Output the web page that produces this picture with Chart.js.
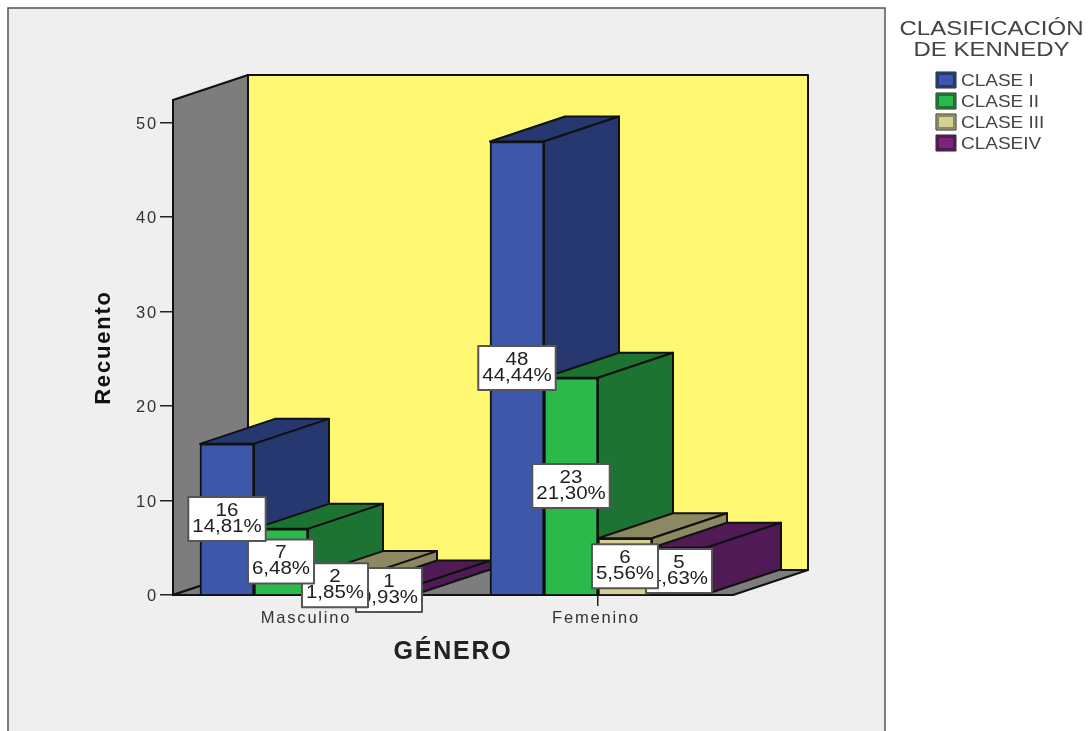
<!DOCTYPE html>
<html lang="es">
<head>
<meta charset="utf-8">
<title>Clasificación de Kennedy por género</title>
<script src="https://cdn.jsdelivr.net/npm/chart.js@4"></script>
<style>
  html, body { margin: 0; padding: 0; background: #fff; overflow: hidden; }
  canvas { display: block; }
</style>
</head>
<body>
<canvas id="grafico" width="1088" height="731"></canvas>
<script>
const categorias = ['Masculino', 'Femenino'];
const clases = ['CLASE I', 'CLASE II', 'CLASE III', 'CLASEIV'];
const claseI = [16, 48];
const claseII = [7, 23];
const claseIII = [2, 6];
const claseIV = [1, 5];
const pctClaseI = ['14,81%', '44,44%'];
const pctClaseII = ['6,48%', '21,30%'];
const pctClaseIII = ['1,85%', '5,56%'];
const pctClaseIV = ['0,93%', '4,63%'];
const ticksY = [0, 10, 20, 30, 40, 50];

const valores = [claseI, claseII, claseIII, claseIV];
const porcentajes = [pctClaseI, pctClaseII, pctClaseIII, pctClaseIV];
const frentes = ['#3d58ab', '#2bb94c', '#d6d094', '#7f2378'];
const costados = ['#26386f', '#1d7432', '#8b8862', '#501b54'];

// profundidad del efecto 3D
const DX = 75, DY = -25;
const LINEA = '#111';
const FUENTE = '"Liberation Sans", Arial, sans-serif';

function poligono(ctx, puntos, relleno) {
    ctx.beginPath();
    puntos.forEach((p, i) => i ? ctx.lineTo(p[0], p[1]) : ctx.moveTo(p[0], p[1]));
    ctx.closePath();
    ctx.fillStyle = relleno;
    ctx.fill();
    ctx.lineWidth = 2;
    ctx.lineJoin = 'round';
    ctx.strokeStyle = LINEA;
    ctx.stroke();
}

// el texto del original esta estirado a lo ancho
function textoAncho(ctx, texto, x, y, estirado) {
    ctx.save();
    ctx.translate(x, y);
    ctx.scale(estirado, 1);
    ctx.fillText(texto, 0, 0);
    ctx.restore();
}

function dibujarEtiqueta(ctx, x, y, valor, pct) {
    const estirado = 1.17;
    ctx.font = '17.5px ' + FUENTE;
    const ancho = Math.max(ctx.measureText(pct).width, ctx.measureText(valor).width) * estirado + 8;
    const alto = 44;
    ctx.fillStyle = '#fff';
    ctx.strokeStyle = '#555';
    ctx.lineWidth = 2;
    ctx.fillRect(x - ancho / 2, y - alto / 2, ancho, alto);
    ctx.strokeRect(x - ancho / 2, y - alto / 2, ancho, alto);
    ctx.fillStyle = '#222';
    ctx.textAlign = 'center';
    ctx.textBaseline = 'middle';
    textoAncho(ctx, valor, x, y - 8, estirado);
    textoAncho(ctx, pct, x, y + 8, estirado);
}

// fondo, paredes, suelo y leyenda
const fondo3d = {
    id: 'fondo3d',
    beforeDraw(chart) {
        const ctx = chart.ctx;
        const a = chart.chartArea;
        ctx.letterSpacing = '1.8px'; // para ticks y titulos de eje
        ctx.save();
        ctx.letterSpacing = '0px';
        ctx.fillStyle = '#fff';
        ctx.fillRect(0, 0, chart.width, chart.height);
        ctx.fillStyle = '#efefef';
        ctx.fillRect(8, 8, 877, 740);
        ctx.strokeStyle = '#555';
        ctx.lineWidth = 1.5;
        ctx.strokeRect(8, 8, 877, 740);

        poligono(ctx, [[a.left + DX, a.top + DY], [a.right + DX, a.top + DY], [a.right + DX, a.bottom + DY], [a.left + DX, a.bottom + DY]], '#fff873');
        poligono(ctx, [[a.left, a.top], [a.left + DX, a.top + DY], [a.left + DX, a.bottom + DY], [a.left, a.bottom]], '#7d7d7d');
        poligono(ctx, [[a.left, a.bottom], [a.left + DX, a.bottom + DY], [a.right + DX, a.bottom + DY], [a.right, a.bottom]], '#7d7d7d');

        ctx.fillStyle = '#444';
        ctx.textAlign = 'center';
        ctx.textBaseline = 'middle';
        ctx.font = '20.5px ' + FUENTE;
        textoAncho(ctx, 'CLASIFICACIÓN', 991.5, 29, 1.17);
        textoAncho(ctx, 'DE KENNEDY', 991.5, 50, 1.17);
        clases.forEach((nombre, i) => {
            const y = 80 + i * 21;
            ctx.fillStyle = frentes[i];
            ctx.fillRect(936, y - 8, 20, 16);
            ctx.strokeStyle = costados[i];
            ctx.lineWidth = 2;
            ctx.strokeRect(938, y - 6, 16, 12);
            ctx.strokeStyle = '#222';
            ctx.lineWidth = 1;
            ctx.strokeRect(936, y - 8, 20, 16);
            ctx.fillStyle = '#444';
            ctx.textAlign = 'left';
            ctx.font = '16.5px ' + FUENTE;
            textoAncho(ctx, nombre, 961, y + 1, 1.15);
        });
        ctx.restore();
    },
    // las barras se pintan de izquierda a derecha para que el frente tape el costado anterior
    beforeDatasetsDraw(chart) {
        const ctx = chart.ctx;
        ctx.save();
        ctx.letterSpacing = '0px';
        categorias.forEach((c, j) => {
            valores.forEach((serie, i) => {
                const barra = chart.getDatasetMeta(i).data[j];
                const izq = barra.x - barra.width / 2;
                const der = barra.x + barra.width / 2;
                poligono(ctx, [[izq, barra.y], [izq + DX, barra.y + DY], [der + DX, barra.y + DY], [der, barra.y]], costados[i]);
                poligono(ctx, [[der, barra.y], [der + DX, barra.y + DY], [der + DX, barra.base + DY], [der, barra.base]], costados[i]);
                barra.draw(ctx);
            });
        });
        categorias.forEach((c, j) => {
            for (let i = valores.length - 1; i >= 0; i--) {
                const barra = chart.getDatasetMeta(i).data[j];
                dibujarEtiqueta(ctx, barra.x, (barra.y + barra.base) / 2, String(valores[i][j]), porcentajes[i][j]);
            }
        });
        ctx.restore();
        return false;
    }
};

const ctx = document.getElementById('grafico').getContext('2d');

new Chart(ctx, {
    type: 'bar',
    data: {
        datasets: clases.map((nombre, i) => ({
            label: nombre,
            data: valores[i].map((v, j) => ({ x: j + 1, y: v })),
            backgroundColor: frentes[i],
            borderColor: LINEA,
            borderWidth: 2,
            barThickness: 54
        }))
    },
    options: {
        responsive: false,
        animation: false,
        layout: { padding: { left: 90, right: 355, top: 100, bottom: 64 } },
        plugins: { legend: { display: false }, tooltip: { enabled: false } },
        scales: {
            x: {
                type: 'linear',
                offset: false,
                min: 0.5345,
                max: 2.4655,
                afterFit(scale) { scale.height = 72; },
                afterBuildTicks(scale) { scale.ticks = categorias.map((c, j) => ({ value: j + 1 })); },
                grid: { offset: false, drawOnChartArea: false, tickLength: 11, color: '#222', lineWidth: 1.5 },
                border: { color: LINEA, width: 2 },
                ticks: {
                    autoSkip: false,
                    maxRotation: 0,
                    padding: 3,
                    labelOffset: -2,
                    color: '#333',
                    font: { family: FUENTE, size: 16.5 },
                    callback: v => categorias[v - 1]
                },
                title: { display: true, text: 'GÉNERO', color: '#222', font: { family: FUENTE, size: 25, weight: 'bold' }, padding: 0 }
            },
            y: {
                min: 0,
                max: 52.4,
                afterFit(scale) { scale.width = 83; },
                afterBuildTicks(scale) { scale.ticks = ticksY.map(v => ({ value: v })); },
                grid: { drawOnChartArea: false, tickLength: 13, color: '#222', lineWidth: 1.5 },
                border: { color: LINEA, width: 2 },
                ticks: {
                    padding: 2,
                    labelOffset: 1.5,
                    color: '#333',
                    font: { family: FUENTE, size: 16.5 }
                },
                title: { display: true, text: 'Recuento', color: '#111', font: { family: FUENTE, size: 22, weight: 'bold' }, padding: 1 }
            }
        }
    },
    plugins: [fondo3d]
});
</script>
</body>
</html>
